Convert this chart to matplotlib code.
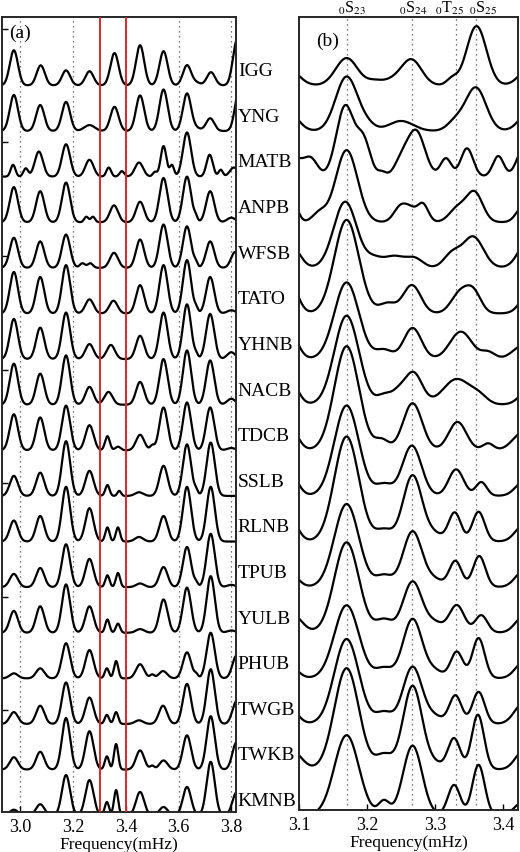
"""
Stacked station spectra: (a) wide band with the 3.3-3.4 mHz window, (b) zoom on 0S23-0S25
"""
import numpy as np
import matplotlib.pyplot as plt
import matplotlib.transforms as mtransforms

plt.rcParams['font.family'] = ['Liberation Serif', 'DejaVu Serif']
plt.rcParams['mathtext.fontset'] = 'stix'

stations = ['IGG', 'YNG', 'MATB', 'ANPB', 'WFSB', 'TATO', 'YHNB', 'NACB', 'TDCB',
            'SSLB', 'RLNB', 'TPUB', 'YULB', 'PHUB', 'TWGB', 'TWKB', 'KMNB']

# spectral peaks: (freq mHz, height in trace units[, width mHz])
peaks_a = {
    'IGG':  [(2.975, .77), (3.077, .44), (3.173, .33), (3.262, .31), (3.357, .71), (3.454, .88),
             (3.543, .75), (3.632, .44), (3.667, .06), (3.723, .29), (3.822, 1.0)],
    'YNG':  [(2.975, .79), (3.075, .57), (3.173, .64), (3.262, .13, .02), (3.357, .53), (3.454, .78),
             (3.543, .91), (3.632, .82), (3.668, .06), (3.72, .28), (3.83, .9)],
    'MATB': [(2.972, .26, .009), (3.02, .18, .009), (3.07, .55), (3.173, .71), (3.262, .37),
             (3.335, .2, .009), (3.385, .12, .009), (3.45, .31), (3.51, .1, .008), (3.543, .67, .011),
             (3.575, .25, .008), (3.632, .97), (3.718, .48, .012), (3.76, .15, .008), (3.81, .2)],
    'ANPB': [(2.975, .77), (3.075, .68), (3.173, .87), (3.25, .12, .008), (3.275, .12, .008),
             (3.355, .37), (3.454, .45), (3.543, .97), (3.632, 1.0), (3.665, .1, .007), (3.72, .68),
             (3.8, .1)],
    'WFSB': [(2.975, .66), (3.075, .58), (3.173, .73), (3.235, .1, .01), (3.265, .1, .01), (3.355, .33),
             (3.454, .62), (3.543, .95), (3.632, .91), (3.665, .1, .007), (3.72, .58), (3.815, .35)],
    'TATO': [(2.975, .91), (3.075, .8), (3.173, 1.06), (3.262, .31), (3.353, .28), (3.454, .62),
             (3.543, 1.06), (3.632, 1.17), (3.667, .1, .007), (3.72, .8), (3.8, .07)],
    'YHNB': [(2.975, .88), (3.075, .69), (3.173, 1.02), (3.262, .33), (3.343, .31), (3.454, .51),
             (3.543, 1.02), (3.632, 1.2), (3.667, .08, .007), (3.72, .99), (3.8, .15)],
    'NACB': [(2.975, .9), (3.075, .68), (3.173, 1.08), (3.262, .39), (3.334, .28), (3.454, .5),
             (3.543, 1.0), (3.632, 1.19), (3.72, .97), (3.8, .13)],
    'TDCB': [(2.975, .79), (3.075, .72), (3.173, .98), (3.262, .55), (3.33, .31, .009), (3.37, .08, .01),
             (3.454, .34), (3.5, .1, .008), (3.543, .94), (3.632, 1.05), (3.72, .94), (3.8, .05)],
    'SSLB': [(2.975, .44), (3.075, .51), (3.173, 1.2), (3.262, .55), (3.33, .24, .008), (3.375, .11, .007),
             (3.45, .08), (3.543, .66), (3.632, 1.13), (3.667, .1, .007), (3.722, 1.17)],
    'RLNB': [(2.975, .46), (3.075, .56), (3.173, 1.2), (3.262, .73), (3.33, .31, .008), (3.37, .31, .008),
             (3.45, .1), (3.543, .56), (3.632, 1.2), (3.722, 1.2)],
    'TPUB': [(2.975, .29), (3.075, .42), (3.173, .94), (3.262, .62), (3.33, .26, .008), (3.37, .31, .008),
             (3.454, .08), (3.543, .44), (3.632, .88), (3.667, .08, .007), (3.722, 1.17), (3.8, .05)],
    'YULB': [(2.975, .48), (3.075, .58), (3.173, 1.06), (3.262, .58), (3.33, .29, .008), (3.37, .2, .008),
             (3.454, .08), (3.543, .73), (3.632, .99), (3.722, 1.24), (3.8, .05)],
    'PHUB': [(2.975, .11), (3.075, .22), (3.173, .77), (3.262, .62), (3.328, .22, .008), (3.363, .38, .008),
             (3.454, .31), (3.5, .08, .008), (3.541, .16), (3.632, .57), (3.667, .08, .007), (3.722, 1.0),
             (3.82, .5)],
    'TWGB': [(2.975, .26), (3.075, .4), (3.173, .91), (3.262, .58), (3.328, .2, .008), (3.363, .26, .008),
             (3.45, .08), (3.541, .4), (3.632, .88), (3.722, 1.2), (3.82, .5)],
    'TWKB': [(2.975, .27), (3.075, .39), (3.173, 1.13), (3.262, .84), (3.328, .29, .008), (3.363, .56, .008),
             (3.454, .42), (3.5, .08, .008), (3.543, .2), (3.632, .75), (3.722, 1.17), (3.82, .6)],
    'KMNB': [(2.975, .12), (3.075, .24), (3.173, .88), (3.262, .77), (3.328, .29, .008), (3.363, .55, .008),
             (3.454, .51), (3.543, .18), (3.632, .62), (3.722, 1.17), (3.82, .5)],
}

peaks_b = {
    'IGG':  [(3.085, .35, .015), (3.170, .60, .016), (3.212, .1, .012), (3.237, .09, .012),
             (3.265, .57, .015), (3.325, .14, .008), (3.361, 1.30, .0145), (3.44, .4, .015)],
    'YNG':  [(3.085, .4, .014), (3.170, 1.19, .016), (3.2, .12, .012), (3.25, .22, .018),
             (3.33, .2, .012), (3.36, .95, .015), (3.44, .45, .015)],
    'MATB': [(3.095, .35, .01), (3.117, .4, .01), (3.168, 1.55, .013), (3.195, .75, .01),
             (3.222, .1, .006), (3.25, .3, .01), (3.272, 1.0, .013), (3.316, .4, .008),
             (3.347, .62, .009), (3.393, .45, .008), (3.43, .6, .01)],
    'ANPB': [(3.092, .4, .007), (3.13, .2, .01), (3.17, 1.58, .016), (3.25, .36, .01), (3.265, .2, .008),
             (3.282, .4, .008), (3.333, .3, .012), (3.358, .65, .012), (3.43, .35, .01)],
    'WFSB': [(3.09, .45, .012), (3.168, 1.45, .017), (3.21, .18, .012), (3.24, .25, .015),
             (3.27, .2, .012), (3.325, .3, .012), (3.356, .68, .015), (3.44, .7, .015)],
    'TATO': [(3.085, .75, .012), (3.17, 2.05, .018), (3.23, .22, .012), (3.266, .62, .013),
             (3.337, .45, .013), (3.357, .42, .011), (3.44, .5, .013)],
    'YHNB': [(3.085, .65, .012), (3.17, 1.68, .018), (3.225, .2, .012), (3.267, .68, .013),
             (3.338, .6, .016), (3.378, .15, .01), (3.43, .3, .015)],
    'NACB': [(3.085, .6, .012), (3.17, 1.95, .018), (3.225, .2, .01), (3.245, .22, .01),
             (3.268, .7, .013), (3.332, .56, .02), (3.365, .15, .012), (3.44, .35, .014)],
    'TDCB': [(3.085, .55, .012), (3.17, 2.28, .018), (3.222, .22, .01), (3.267, 1.03, .014),
             (3.333, .62, .013), (3.378, .15, .008), (3.43, .4, .015)],
    'SSLB': [(3.085, .55, .012), (3.17, 1.98, .018), (3.225, .25, .012), (3.266, 1.1, .014),
             (3.331, .58, .011), (3.368, .3, .008), (3.43, .3, .012)],
    'RLNB': [(3.085, .55, .012), (3.17, 2.3, .018), (3.225, .25, .012), (3.267, 1.45, .014),
             (3.3, .15, .012), (3.329, .63, .009), (3.364, .65, .009), (3.43, .35, .012)],
    'TPUB': [(3.085, .35, .012), (3.17, 1.82, .018), (3.225, .25, .012), (3.267, 1.22, .014),
             (3.3, .15, .012), (3.33, .57, .009), (3.365, .68, .009), (3.43, .35, .012)],
    'YULB': [(3.09, .4, .014), (3.17, 1.98, .018), (3.225, .28, .012), (3.267, 1.12, .014),
             (3.3, .2, .012), (3.332, .6, .011), (3.368, .38, .009), (3.43, .35, .012)],
    'PHUB': [(3.085, .3, .012), (3.17, 1.6, .018), (3.225, .22, .012), (3.267, 1.3, .014),
             (3.3, .15, .012), (3.332, .58, .009), (3.364, .88, .009), (3.43, .35, .012)],
    'TWGB': [(3.085, .38, .012), (3.17, 1.86, .018), (3.225, .25, .012), (3.267, 1.25, .014),
             (3.3, .15, .012), (3.33, .62, .009), (3.364, .7, .009), (3.43, .45, .013)],
    'TWKB': [(3.09, .4, .014), (3.17, 2.22, .018), (3.225, .32, .012), (3.267, 1.83, .014),
             (3.3, .12, .012), (3.328, .68, .009), (3.363, 1.2, .009), (3.43, .4, .012)],
    'KMNB': [(3.08, .3, .012), (3.17, 1.75, .018), (3.225, .3, .008), (3.267, 1.52, .014),
             (3.328, .66, .009), (3.364, 1.1, .009), (3.43, .3, .012)],
}

ticks_a = [3.0, 3.2, 3.4, 3.6, 3.8]
ticks_b = [3.1, 3.2, 3.3, 3.4]
window_a = [3.3, 3.4]          # red lines in (a)
mode_names = [r'$_0$S$_{23}$', r'$_0$S$_{24}$', r'$_0$T$_{25}$', r'$_0$S$_{25}$']
mode_freqs = [3.170, 3.266, 3.331, 3.360]


def spectrum(f, peaks, width):
    """sum of the peaks on a frequency grid"""
    y = np.zeros_like(f)
    for p in peaks:
        w = p[2] if len(p) > 2 else width
        y += p[1] * np.exp(-0.5 * ((f - p[0]) / w) ** 2)
    return y


fig = plt.figure(figsize=(5.2, 8.52), dpi=100)
ax_a = fig.add_axes([2 / 520, 40 / 852, 234 / 520, 795 / 852])
ax_b = fig.add_axes([299 / 520, 42 / 852, 219 / 520, 793 / 852])

n = len(stations)
fa = np.linspace(2.90, 3.85, 3000)
fb = np.linspace(3.08, 3.44, 2000)
for i, st in enumerate(stations):
    off = n - 1 - i
    ax_a.plot(fa, off + spectrum(fa, peaks_a[st], 0.0155), color='k', lw=1.6)
    ax_b.plot(fb, off + spectrum(fb, peaks_b[st], 0.015), color='k', lw=1.6)

# (a)
for f in window_a:
    ax_a.axvline(f, color='#d9282a', lw=1.4, zorder=5)
ax_a.set_xlim(2.93, 3.818)
ax_a.set_ylim(0.07, 17.5)
ax_a.set_xticks(ticks_a)
ax_a.set_xticklabels([f'{t:.1f}' for t in ticks_a])
ax_a.set_yticks(np.arange(2.3, 17.5, 2.49))
ax_a.set_yticklabels([])
ax_a.grid(axis='x', ls=(0, (1, 3)), color='0.3', lw=0.9)
ax_a.text(0.03, 0.99, '(a)', transform=ax_a.transAxes, fontsize=14, va='top', ha='left')

trans = mtransforms.blended_transform_factory(ax_a.transAxes, ax_a.transData)
for i, st in enumerate(stations):
    ax_a.text(1.008, n - 1 - i + 0.3, st, transform=trans, fontsize=14,
              va='center', ha='left', clip_on=False)

# (b)
for f in mode_freqs:
    ax_b.axvline(f, ls=(0, (1, 3)), color='0.3', lw=0.9, zorder=0)
ax_b.set_xlim(3.1, 3.422)
ax_b.set_ylim(0.11, 17.5)
ax_b.set_xticks(ticks_b)
ax_b.set_xticklabels([f'{t:.1f}' for t in ticks_b])
ax_b.set_yticks([])
ax_b.text(0.08, 0.98, '(b)', transform=ax_b.transAxes, fontsize=14, va='top', ha='left')
nudge = [0.008, 0.002, -0.009, 0.011]
for name, f, d in zip(mode_names, mode_freqs, nudge):
    ax_b.text(f + d, 1.0, name, transform=ax_b.get_xaxis_transform(), fontsize=11.5,
              ha='center', va='bottom')

for ax in (ax_a, ax_b):
    ax.tick_params(axis='both', direction='in', length=4, width=1, labelsize=13, pad=5)
    ax.set_xlabel('Frequency(mHz)', fontsize=12.5, labelpad=1)
    for s in ax.spines.values():
        s.set_linewidth(1.4)
        s.set_color('0.15')

fig.savefig('out.png', dpi=100)
